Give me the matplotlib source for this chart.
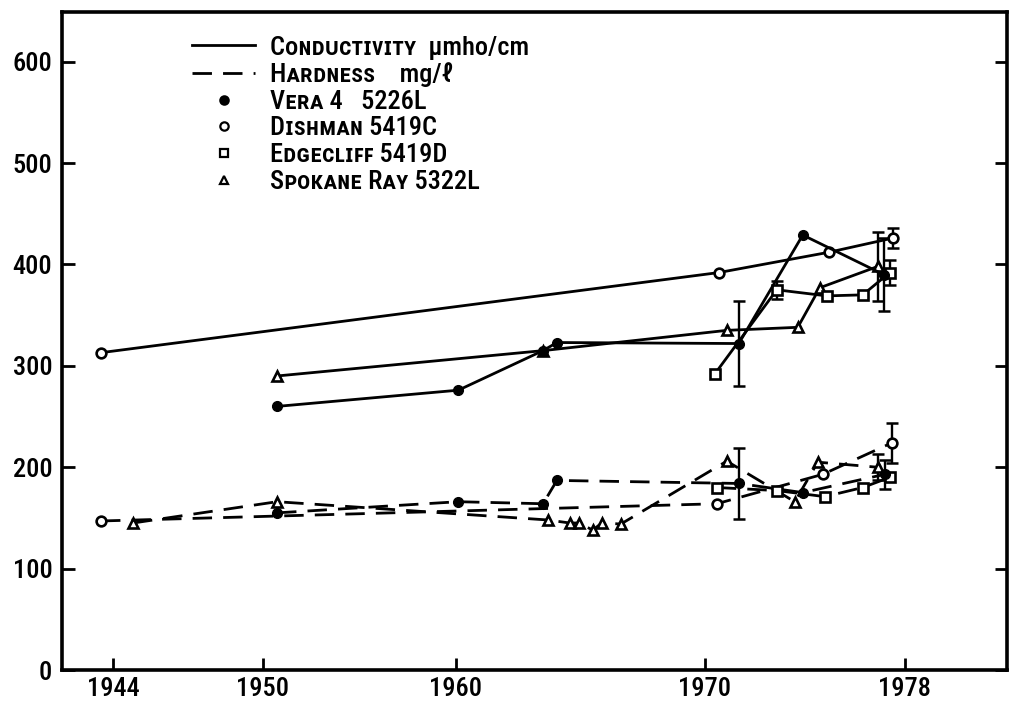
import numpy as np
import matplotlib
matplotlib.use('Agg')
import matplotlib.pyplot as plt
from matplotlib import font_manager as fm
from matplotlib.lines import Line2D

# ---- values ----
# conductivity (umho/cm)
vera_cond_yr = [1950.73, 1960.1, 1963.5, 1964.06, 1971.36, 1973.92, 1977.16]
vera_cond = [260, 276, 315, 323, 322, 429, 390]
dish_cond_yr = [1943.52, 1970.56, 1974.96, 1977.52]
dish_cond = [313, 392, 412, 426]
edge_cond_yr = [1970.4, 1972.88, 1974.88, 1976.32, 1977.4]
edge_cond = [292, 375, 369, 370, 392]
spok_cond_yr = [1950.73, 1963.5, 1970.88, 1973.72, 1974.6, 1976.92]
spok_cond = [290, 315, 335, 338, 377, 398]

# hardness (mg/l)
vera_hard_yr = [1950.73, 1960.1, 1963.5, 1964.06, 1971.36, 1973.92, 1977.2]
vera_hard = [155, 166, 164, 187, 184, 175, 193]
dish_hard_yr = [1943.52, 1970.48, 1974.72, 1977.48]
dish_hard = [147, 164, 193, 224]
edge_hard_yr = [1970.48, 1972.88, 1974.8, 1976.32, 1977.4]
edge_hard = [180, 177, 171, 180, 190]
spok_hard_yr = [1944.8, 1950.73, 1963.69, 1964.58, 1964.94, 1965.5, 1965.86,
                1966.63, 1970.88, 1973.6, 1974.52, 1976.92]
spok_hard = [145, 166, 148, 145, 145, 138, 145, 144, 206, 166, 205, 200]

# error bars: index of the point in its series, half length
vera_cond_err_idx = [4, 6]
vera_cond_err = [42, 36]
dish_cond_err_idx = [3]
dish_cond_err = [10]
edge_cond_err_idx = [1, 4]
edge_cond_err = [9, 12]
spok_cond_err_idx = [5]
spok_cond_err = [34]
vera_hard_err_idx = [4, 6]
vera_hard_err = [35, 14]
dish_hard_err_idx = [3]
dish_hard_err = [20]
spok_hard_err_idx = [11]
spok_hard_err = [13]

year_ticks = [1944, 1950, 1960, 1970, 1978]
value_ticks = [0, 100, 200, 300, 400, 500, 600]

legend_labels = ['Cᴏɴᴅᴜᴄᴛɪᴠɪᴛʏ  μmho/cm', 'Hᴀʀᴅɴᴇꜱꜱ    mg/ℓ',
                 'Vᴇʀᴀ 4   5226L', 'Dɪꜱʜᴍᴀɴ 5419C',
                 'Eᴅɢᴇᴄʟɪꜰꜰ 5419D', 'Sᴘᴏᴋᴀɴᴇ Rᴀʏ 5322L']

# the hand-drawn year axis is not evenly spaced
knot_years = [1934, 1944, 1950, 1960, 1970, 1978, 1990]
knot_pos = [-137, 113, 263, 456, 705, 905, 1205]


def fwd(x):
    return np.interp(x, knot_years, knot_pos)


def inv(p):
    return np.interp(p, knot_pos, knot_years)


# pick a narrow face if one is there, the lettering is condensed
fonts = fm.fontManager.ttflist
names = {f.name for f in fonts}
narrow = None
for cand in ['Liberation Sans Narrow', 'Roboto Condensed', 'Open Sans Condensed']:
    if cand in names:
        narrow = cand
        break
if narrow is None and any(f.name == 'DejaVu Sans' and f.stretch == 'condensed'
                          for f in fonts):
    narrow = 'DejaVu Sans'
    plt.rcParams['font.stretch'] = 'condensed'
if narrow is None:
    narrow = 'Liberation Sans'
plt.rcParams['font.family'] = [narrow, 'DejaVu Sans']
plt.rcParams['font.weight'] = 'medium'

fig = plt.figure(figsize=(10.18, 7.26), dpi=100)
ax = fig.add_axes([0.0609, 0.0771, 0.928, 0.9064])
ax.set_xscale('function', functions=(fwd, inv))

LW = 2.0
DASH = (7, 4)
styles = {
    'vera': dict(marker='o', mfc='black', mec='black'),
    'dish': dict(marker='o', mfc='white', mec='black', mew=1.9),
    'edge': dict(marker='s', mfc='white', mec='black', mew=1.9),
    'spok': dict(marker='^', mfc='white', mec='black', mew=1.9),
}

# vera last so its filled dots sit on top
series = [
    ('spok', spok_cond_yr, spok_cond, spok_cond_err_idx, spok_cond_err, '-'),
    ('dish', dish_cond_yr, dish_cond, dish_cond_err_idx, dish_cond_err, '-'),
    ('edge', edge_cond_yr, edge_cond, edge_cond_err_idx, edge_cond_err, '-'),
    ('vera', vera_cond_yr, vera_cond, vera_cond_err_idx, vera_cond_err, '-'),
    ('spok', spok_hard_yr, spok_hard, spok_hard_err_idx, spok_hard_err, '--'),
    ('dish', dish_hard_yr, dish_hard, dish_hard_err_idx, dish_hard_err, '--'),
    ('edge', edge_hard_yr, edge_hard, [], [], '--'),
    ('vera', vera_hard_yr, vera_hard, vera_hard_err_idx, vera_hard_err, '--'),
]

for z, (key, xs, ys, eidx, eval_, ls) in enumerate(series):
    line, = ax.plot(xs, ys, ls, color='black', lw=LW, ms=7, zorder=3 + 0.1 * z,
                    **styles[key])
    if ls == '--':
        line.set_dashes(DASH)
    if eidx:
        ex = [xs[i] for i in eidx]
        ey = [ys[i] for i in eidx]
        ax.errorbar(ex, ey, yerr=eval_, fmt='none', ecolor='black',
                    elinewidth=1.7, capsize=4, capthick=1.8, zorder=2)

ax.set_xlim(1941.96, 1982.08)
ax.set_ylim(0, 649)
ax.set_xticks(year_ticks)
ax.set_xticklabels([str(y) for y in year_ticks])
ax.set_yticks(value_ticks)
ax.tick_params(axis='both', direction='in', length=9, width=2, labelsize=19,
               colors='black')
ax.tick_params(axis='y', right=True, pad=7)
ax.tick_params(axis='x', pad=5)
for sp in ax.spines.values():
    sp.set_linewidth(2.6)

handles = [
    Line2D([], [], color='black', lw=LW, ls='-'),
    Line2D([], [], color='black', lw=LW, ls=(0, DASH)),
]
for key in ['vera', 'dish', 'edge', 'spok']:
    st = dict(styles[key])
    st['mew'] = 1.6
    handles.append(Line2D([], [], ls='none', color='black', ms=6, **st))

ax.legend(handles, legend_labels, loc='upper left', bbox_to_anchor=(0.118, 0.992),
          frameon=False, fontsize=19, handlelength=2.4, handletextpad=0.55,
          labelspacing=0.1, borderpad=0.2)

fig.savefig('out.png', dpi=100)
